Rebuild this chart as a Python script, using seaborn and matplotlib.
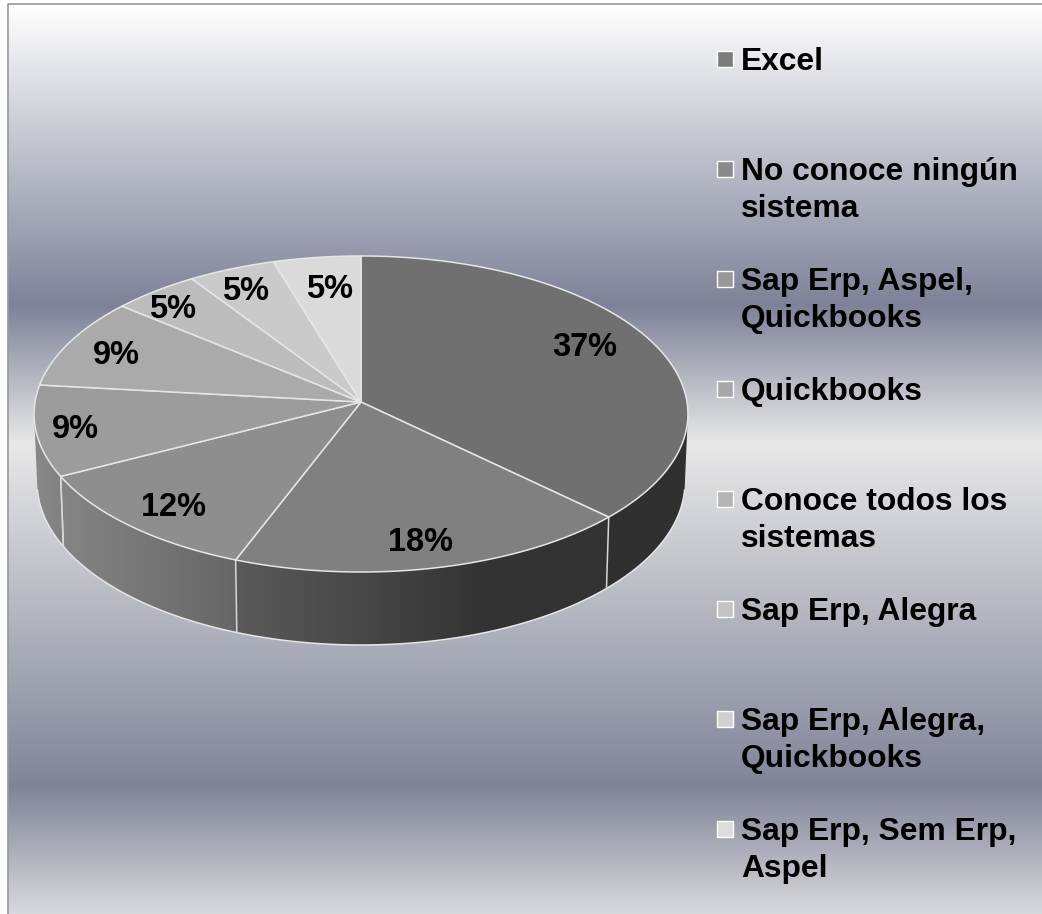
import numpy as np
import matplotlib
matplotlib.use('Agg')
import matplotlib.pyplot as plt
from matplotlib.patches import Polygon
import seaborn as sns

# Chart data
categories = ['Excel', 'No conoce ningún\nsistema', 'Sap Erp, Aspel,\nQuickbooks', 'Quickbooks',
              'Conoce todos los\nsistemas', 'Sap Erp, Alegra', 'Sap Erp, Alegra,\nQuickbooks',
              'Sap Erp, Sem Erp,\nAspel']
counts = [16, 8, 5, 4, 4, 2, 2, 2]
pct_labels = ['37%', '18%', '12%', '9%', '9%', '5%', '5%', '5%']

# Label placement in pixels
label_x = [585, 420, 173.5, 75, 116, 172.5, 245.5, 330]
label_y = [347.5, 542.5, 507.5, 430, 355.5, 309, 291, 289.5]

top_colors = ['#707070', '#808080', '#8e8e8e', '#9c9c9c', '#aaaaaa', '#bcbcbc', '#cacaca', '#dadada']
side_shades = [['#303030', '#303030'],
               ['#5a5a5a', '#474747', '#333333', '#333333'],
               ['#858585', '#666666'],
               ['#8a8a8a', '#808080']]
bg_stops = [(0.0, '#ffffff'), (0.331, '#7d8298'), (0.483, '#e8e8e8'), (0.861, '#7f8498'), (1.0, '#d8d9dc')]

sns.set_theme(style='white')
plt.rcParams['font.family'] = ['Liberation Sans', 'DejaVu Sans']
plt.rcParams['font.weight'] = 'bold'

fig = plt.figure(figsize=(10.42, 9.14), dpi=100, facecolor='white')
ax = fig.add_axes([0, 0, 1, 1])
ax.axis('off')

# Background gradient
bg_cmap = matplotlib.colors.LinearSegmentedColormap.from_list('bg', bg_stops, N=512)
ax.imshow(np.linspace(0, 1, 512).reshape(-1, 1), cmap=bg_cmap, aspect='auto',
          extent=(8, 1042, 914, 4), zorder=0, interpolation='nearest')
ax.plot([8, 8, 1042], [914, 3.5, 3.5], color='#9a9a9a', lw=1.2, zorder=1)


# Perspective view of the disc, angle clockwise from 12 o'clock
def project(theta, cx, cy, rx, ry, k=0.0759):
    u, v = np.sin(np.radians(theta)), np.cos(np.radians(theta))
    d = 1 + k * v
    return cx + rx * u / d, cy - ry * v / d


def top_rim(theta):
    return project(theta, 361, 402, 326, 157.1)


def bottom_rim(theta):
    return project(theta, 361, 470, 323, 161.7)


edges = np.concatenate([[0], np.cumsum(counts)]) / np.sum(counts) * 360
rim_line = '#e6e6e6'

# Side wall of the disc
for i, shades in enumerate(side_shades):
    t0, t1 = max(edges[i], 97), min(edges[i + 1], 263)
    th = np.linspace(t0, t1, 80)
    xt, yt = top_rim(th)
    xb, yb = bottom_rim(th)
    verts = np.column_stack([np.r_[xt, xb[::-1]], np.r_[yt, yb[::-1]]])
    patch = Polygon(verts, closed=True, transform=ax.transData, fc='none', ec='none')
    ax.add_patch(patch)
    left, right = verts[:, 0].min(), verts[:, 0].max()
    # palette runs left to right across the wall
    cmap = sns.blend_palette(shades, as_cmap=True)
    im = ax.imshow(np.linspace(0, 1, 128).reshape(1, -1), cmap=cmap, aspect='auto',
                   extent=(left, right, verts[:, 1].max(), verts[:, 1].min()), zorder=2)
    im.set_clip_path(patch)
    ax.plot(xb, yb, color=rim_line, lw=1.1, zorder=3)
    if edges[i] > 97:
        xa, ya = top_rim(edges[i])
        xz, yz = bottom_rim(edges[i])
        ax.plot([xa, xz], [ya, yz], color='#d8d8d8', lw=1.1, zorder=3)
xa, ya = top_rim(edges[3])
xz, yz = bottom_rim(edges[3])
ax.plot([xa, xz], [ya, yz], color='#d8d8d8', lw=1.1, zorder=3)

# Top face
hub_x, hub_y = 361, 402
for i, color in enumerate(top_colors):
    th = np.linspace(edges[i], edges[i + 1], 120)
    xt, yt = top_rim(th)
    ax.fill(np.r_[hub_x, xt], np.r_[hub_y, yt], fc=color, ec=rim_line, lw=1.1, zorder=4, joinstyle='round')

for lx, ly, txt in zip(label_x, label_y, pct_labels):
    ax.text(lx, ly, txt, ha='center', va='center', fontsize=23.5, fontweight='bold', color='black', zorder=5)

# Legend
legend_y = [59 + 110 * i for i in range(len(categories))]
legend_colors = ['#7c7c7c', '#8a8a8a', '#989898', '#a8a8a8', '#b4b4b4', '#c4c4c4', '#d0d0d0', '#dcdcdc']
sns.scatterplot(x=[725] * len(categories), y=legend_y, hue=categories, palette=legend_colors, marker='s',
                s=130, edgecolor='white', linewidth=1, legend=False, ax=ax, zorder=5)
for ly, name in zip(legend_y, categories):
    ax.text(741, ly - 12, name, ha='left', va='top', fontsize=22.9, fontweight='bold',
            color='black', linespacing=1.29, zorder=5)

ax.set_xlim(0, 1042)
ax.set_ylim(914, 0)

fig.savefig('out.png', dpi=100)
